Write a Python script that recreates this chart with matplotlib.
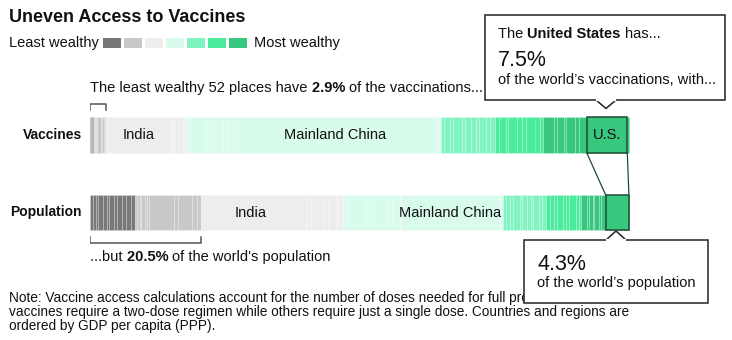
import matplotlib
matplotlib.use("Agg")
import numpy as np
import matplotlib.pyplot as plt
from matplotlib.patches import Rectangle, Polygon

plt.rcParams['font.family'] = ['Liberation Sans', 'DejaVu Sans']

# wealth groups, least wealthy -> most wealthy
group_colors = ["#787878", "#c8c8c8", "#ededed", "#d9fbec", "#7ff4c0", "#4aeb9c", "#37c77f"]

# places ordered by GDP per capita, per wealth group: share of vaccinations % / share of population %
g0_vacc = [0.05, 0.08, 0.04, 0.10, 0.06, 0.05, 0.09, 0.06, 0.10, 0.05, 0.06, 0.06]
g0_pop = [0.5, 0.6, 0.4, 0.9, 0.7, 0.5, 0.8, 0.6, 1.0, 0.7, 0.8, 0.8]
g1_vacc = [0.08, 0.10, 0.05, 0.12, 0.10, 0.07, 0.70, 0.15, 0.40, 0.20, 0.13]
g1_pop = [0.4, 0.5, 0.3, 0.6, 0.5, 0.4, 4.6, 0.7, 2.5, 1.0, 0.7]
g2_vacc = [12.1, 0.4, 0.2, 0.8, 0.15, 0.6, 0.2, 0.35]
g2_pop = [18.5, 1.2, 0.8, 2.4, 0.6, 1.5, 0.5, 0.8]
g3_vacc = [0.5, 3.2, 0.9, 2.4, 0.6, 1.4, 37.5, 0.5, 0.3]
g3_pop = [0.8, 3.5, 1.3, 2.6, 0.9, 1.6, 18.3, 0.4, 0.3]
g4_vacc = [0.6, 1.0, 0.7, 1.6, 0.5, 1.1, 0.9, 0.6, 1.3, 0.7, 1.0]
g4_pop = [0.5, 0.8, 0.6, 1.2, 0.4, 0.9, 0.7, 0.5, 1.0, 0.6, 0.8]
g5_vacc = [0.8, 1.2, 0.5, 1.5, 1.0, 0.7, 1.8, 0.8, 0.6]
g5_pop = [0.6, 0.9, 0.4, 1.1, 0.7, 0.5, 1.3, 0.6, 0.4]
g6_vacc = [2.0, 0.5, 1.4, 0.4, 1.7, 0.7, 1.4, 7.5, 0.3, 0.2]
g6_pop = [1.1, 0.3, 0.8, 0.2, 0.9, 0.4, 0.8, 4.3, 0.1, 0.1]

named = {(2, 0): "India", (3, 6): "Mainland China", (6, 7): "U.S."}

least_wealthy_vacc = 2.9
least_wealthy_pop = 20.5
us_vacc = 7.5
us_pop = 4.3

vacc_groups = [g0_vacc, g1_vacc, g2_vacc, g3_vacc, g4_vacc, g5_vacc, g6_vacc]
pop_groups = [g0_pop, g1_pop, g2_pop, g3_pop, g4_pop, g5_pop, g6_pop]

grp, vacc, pop, names = [], [], [], []
for gi, (vv, pp) in enumerate(zip(vacc_groups, pop_groups)):
    for k, (v, p) in enumerate(zip(vv, pp)):
        grp.append(gi)
        vacc.append(v)
        pop.append(p)
        names.append(named.get((gi, k), ""))
vacc = np.array(vacc)
pop = np.array(pop)
colors = [group_colors[g] for g in grp]
vacc_left = np.concatenate([[0], np.cumsum(vacc)[:-1]])
pop_left = np.concatenate([[0], np.cumsum(pop)[:-1]])

W, H = 732, 340
fig = plt.figure(figsize=(W / 100, H / 100), dpi=100)

# overlay in pixel coordinates for text / callouts
ov = fig.add_axes([0, 0, 1, 1])
ov.set_xlim(0, W)
ov.set_ylim(H, 0)
ov.axis("off")

# bar axes: x in % of world total, y in pixel rows
ax = fig.add_axes([90 / W, 1 - 250 / H, 540 / W, 155 / H])
ax.set_xlim(0, 100)
ax.set_ylim(250, 95)
ax.axis("off")

yv, hv = 135, 36
yp, hp = 212.5, 35
edge = (1, 1, 1, 0.35)
ax.barh(yv, vacc, left=vacc_left, height=hv, color=colors, edgecolor=edge, linewidth=0.4)
ax.barh(yp, pop, left=pop_left, height=hp, color=colors, edgecolor=edge, linewidth=0.4)

us = names.index("U.S.")
dark = "#1f4a33"
ax.barh(yv, vacc[us], left=vacc_left[us], height=hv, color=colors[us], edgecolor=dark, linewidth=1.1, zorder=3)
ax.barh(yp, pop[us], left=pop_left[us], height=hp, color=colors[us], edgecolor=dark, linewidth=1.1, zorder=3)
# connectors between the two U.S. boxes
ax.plot([vacc_left[us], pop_left[us]], [yv + hv / 2, yp - hp / 2], color=dark, lw=0.9)
ax.plot([vacc_left[us] + vacc[us], pop_left[us] + pop[us]], [yv + hv / 2, yp - hp / 2], color=dark, lw=0.9)

for i, n in enumerate(names):
    if not n:
        continue
    ax.text(vacc_left[i] + vacc[i] / 2, yv, n, ha="center", va="center", fontsize=10.5, color="#111", zorder=4)
    if n != "U.S.":
        ax.text(pop_left[i] + pop[i] / 2, yp, n, ha="center", va="center", fontsize=10.5, color="#111", zorder=4)

# brackets
bc = "#555555"
ax.plot([0, 0, least_wealthy_vacc, least_wealthy_vacc], [110, 103.5, 103.5, 110], color=bc, lw=1.1)
ax.plot([0, 0, least_wealthy_pop, least_wealthy_pop], [237, 242.5, 242.5, 237], color=bc, lw=1.1)

ov.text(82, 135, "Vaccines", ha="right", va="center", fontsize=10, fontweight="bold", color="#111")
ov.text(82, 212, "Population", ha="right", va="center", fontsize=10, fontweight="bold", color="#111")

renderer = fig.canvas.get_renderer()


def text_width(s, size, weight):
    # measure with ink markers so spaces count
    t = ov.text(0, 0, "|" + s + "|", fontsize=size, fontweight=weight)
    m = ov.text(0, 0, "||", fontsize=size, fontweight=weight)
    w = t.get_window_extent(renderer=renderer).width - m.get_window_extent(renderer=renderer).width
    t.remove()
    m.remove()
    return w


def rich(x, y, parts, size, zorder=5):
    # spaces are kept at the end of each part
    for s, w in parts:
        ov.text(x, y, s, fontsize=size, fontweight=w, ha="left", va="center", color="#111", zorder=zorder)
        x += text_width(s, size, w)


# title and legend
ov.text(9, 17, "Uneven Access to Vaccines", fontsize=13, fontweight="bold", ha="left", va="center", color="#111")
ov.text(9, 43, "Least wealthy", fontsize=10.5, ha="left", va="center", color="#111")
for k, c in enumerate(group_colors):
    ov.add_patch(Rectangle((103 + 21 * k, 38), 17.5, 10, color=c, lw=0))
ov.text(254, 43, "Most wealthy", fontsize=10.5, ha="left", va="center", color="#111")

rich(90, 88, [("The least wealthy 52 places have ", "normal"), (f"{least_wealthy_vacc}% ", "bold"),
              ("of the vaccinations...", "normal")], 10.5)
rich(90, 257, [("...but ", "normal"), (f"{least_wealthy_pop}% ", "bold"),
               ("of the world's population", "normal")], 10.5)

# note
note = ["Note: Vaccine access calculations account for the number of doses needed for full protection. Some",
        "vaccines require a two-dose regimen while others require just a single dose. Countries and regions are",
        "ordered by GDP per capita (PPP)."]
for k, line in enumerate(note):
    ov.text(9, 298 + 14 * k, line, fontsize=9.8, ha="left", va="center", color="#111")


def callout(x0, x1, y0, y1, px, py, base_y, half=10):
    ov.add_patch(Rectangle((x0, y0), x1 - x0, y1 - y0, facecolor="white", edgecolor="#222", lw=1.1, zorder=6))
    ov.add_patch(Polygon([(px - half, base_y), (px, py), (px + half, base_y)], closed=True,
                         facecolor="white", edgecolor="none", zorder=7))
    ov.plot([px - half, px, px + half], [base_y, py, base_y], color="#222", lw=1.1, zorder=7)
    # cover the box border under the pointer base
    ov.plot([px - half + 1, px + half - 1], [base_y, base_y], color="white", lw=1.6, zorder=7)


callout(485, 725, 15, 100, 606, 108.5, 100)
rich(498, 34, [("The ", "normal"), ("United States ", "bold"), ("has...", "normal")], 10.5, zorder=8)
ov.text(498, 61, f"{us_vacc}%", fontsize=15.5, ha="left", va="center", color="#111", zorder=8)
ov.text(498, 80, "of the world\u2019s vaccinations, with...", fontsize=10.5, ha="left", va="center",
        color="#111", zorder=8)

callout(524, 708, 240, 303, 616, 231, 240)
ov.text(537, 264, f"{us_pop}%", fontsize=15.5, ha="left", va="center", color="#111", zorder=8)
ov.text(537, 283, "of the world\u2019s population", fontsize=10.5, ha="left", va="center", color="#111", zorder=8)

fig.savefig("out.png", dpi=100)
